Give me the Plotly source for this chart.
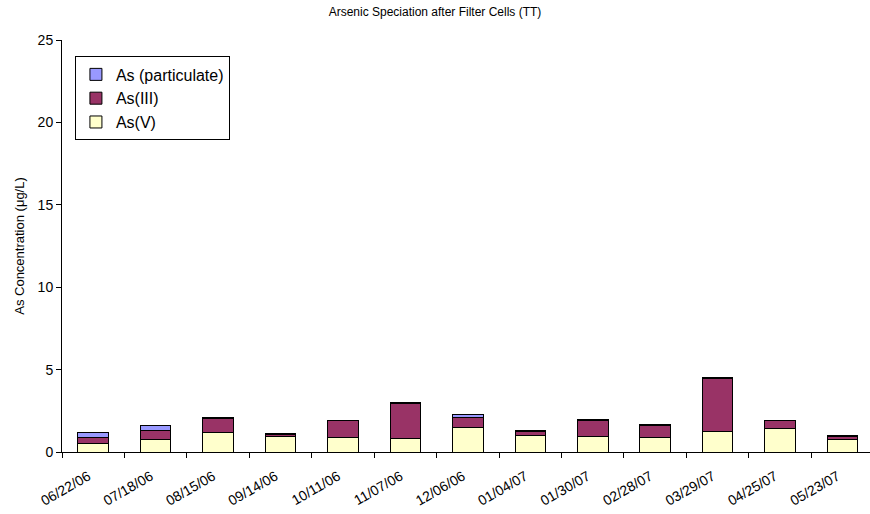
import plotly.graph_objects as go

dates = ["06/22/06", "07/18/06", "08/15/06", "09/14/06", "10/11/06", "11/07/06",
         "12/06/06", "01/04/07", "01/30/07", "02/28/07", "03/29/07", "04/25/07", "05/23/07"]
as_v = [0.53, 0.73, 1.21, 0.97, 0.85, 0.83, 1.47, 0.99, 0.93, 0.85, 1.27, 1.44, 0.77]
as_iii = [0.34, 0.60, 0.85, 0.12, 1.05, 2.14, 0.61, 0.27, 0.99, 0.77, 3.20, 0.46, 0.18]
as_part = [0.33, 0.25, 0.03, 0.03, 0.03, 0.03, 0.17, 0.06, 0.03, 0.06, 0.03, 0.04, 0.08]

font = "Liberation Sans, Arial, sans-serif"
line = dict(color="black", width=1)

fig = go.Figure()
fig.add_trace(go.Bar(x=dates, y=as_v, name="As(V)",
                     marker=dict(color="#FFFFCC", line=line)))
fig.add_trace(go.Bar(x=dates, y=as_iii, name="As(III)",
                     marker=dict(color="#993366", line=line)))
fig.add_trace(go.Bar(x=dates, y=as_part, name="As (particulate)",
                     marker=dict(color="#9999FF", line=line)))

fig.update_layout(
    width=870, height=514,
    barmode="stack", bargap=0.51,
    plot_bgcolor="white", paper_bgcolor="white",
    margin=dict(l=62, r=0, t=40, b=62),
    font=dict(family=font, size=13, color="black"),
    title=dict(text="Arsenic Speciation after Filter Cells (TT)", x=0.5, xanchor="center",
               y=0.985, yanchor="top", font=dict(size=12)),
    legend=dict(x=0.016, y=0.96, xanchor="left", yanchor="top",
                bordercolor="black", borderwidth=1, bgcolor="white",
                traceorder="reversed", font=dict(size=16),
                itemwidth=30, tracegroupgap=0),
    showlegend=True,
)
fig.update_xaxes(
    type="category", range=[-0.5, 12.44],
    showline=True, linecolor="black", linewidth=1,
    ticks="outside", tickson="boundaries", ticklen=5, tickcolor="black",
    tickangle=-30, tickfont=dict(size=14), showgrid=False,
    ticklabelstandoff=10, ticklabelshift=-5,
)
fig.update_yaxes(
    range=[0, 25], dtick=5,
    showline=True, linecolor="black", linewidth=1,
    ticks="outside", ticklen=5, tickcolor="black",
    showgrid=False, zeroline=False,
    title=dict(text="As Concentration (μg/L)", font=dict(size=13), standoff=10),
    tickfont=dict(size=14),
)

fig.write_html("out.html")
